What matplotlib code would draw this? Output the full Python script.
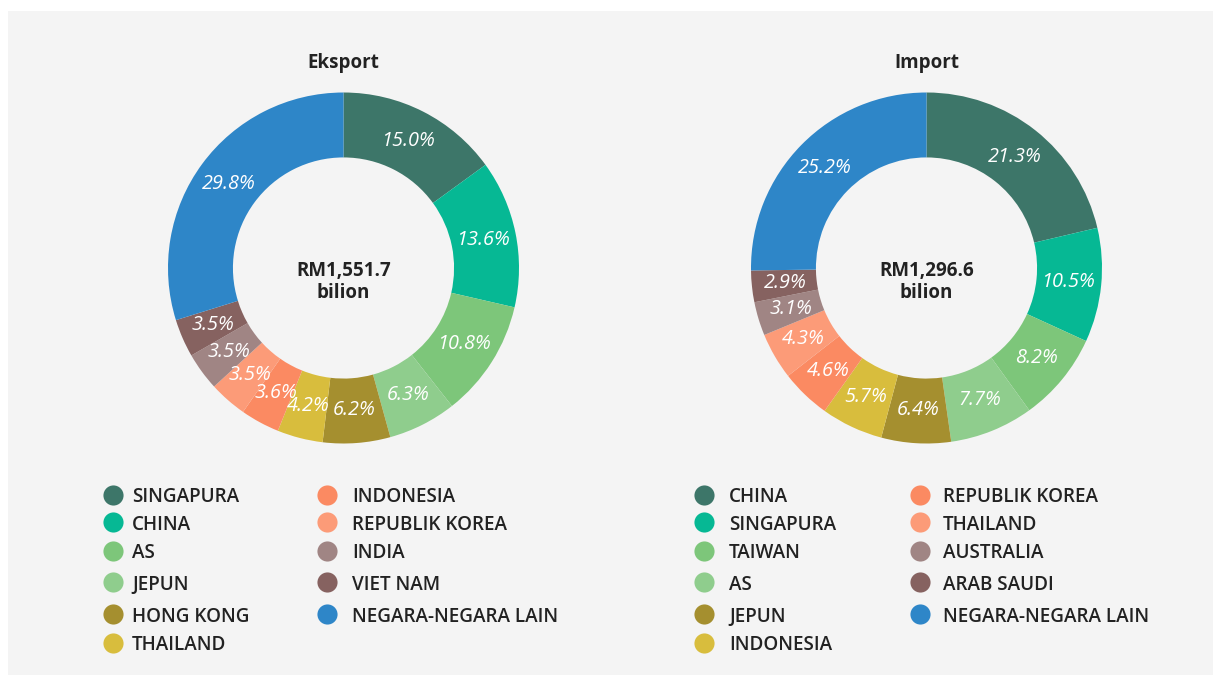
import matplotlib
matplotlib.use("Agg")
import matplotlib.pyplot as plt
from matplotlib.patches import Rectangle

plt.rcParams['font.family'] = ['Open Sans', 'DejaVu Sans']

# ---------------- data ----------------
export_labels = ["SINGAPURA", "CHINA", "AS", "JEPUN", "HONG KONG", "THAILAND",
                 "INDONESIA", "REPUBLIK KOREA", "INDIA", "VIET NAM", "NEGARA-NEGARA LAIN"]
export_values = [15.0, 13.6, 10.8, 6.3, 6.2, 4.2, 3.6, 3.5, 3.5, 3.5, 29.8]
export_total = ["RM1,551.7", "bilion"]

import_labels = ["CHINA", "SINGAPURA", "TAIWAN", "AS", "JEPUN", "INDONESIA",
                 "REPUBLIK KOREA", "THAILAND", "AUSTRALIA", "ARAB SAUDI", "NEGARA-NEGARA LAIN"]
import_values = [21.3, 10.5, 8.2, 7.7, 6.4, 5.7, 4.6, 4.3, 3.1, 2.9, 25.2]
import_total = ["RM1,296.6", "bilion"]

colors = ["#3d7669", "#06b894", "#7dc67a", "#8fcd8d", "#a58f2f", "#d8bd3d",
          "#fb8a62", "#fc9b78", "#a08584", "#866260", "#2e86c8"]

W, H = 1221, 683
fig = plt.figure(figsize=(W / 100, H / 100), dpi=100)
fig.patch.set_facecolor("white")
bg = Rectangle((8 / W, 1 - 675 / H), (1213 - 8) / W, (675 - 11) / H,
               transform=fig.transFigure, facecolor="#f4f4f4",
               edgecolor="none", zorder=-10)
fig.patches.append(bg)

R = 175.5  # outer radius in px
ring_w = 0.37


def donut(cx, cy, values, total, title):
    ax = fig.add_axes([(cx - R) / W, 1 - (cy + R) / H, 2 * R / W, 2 * R / H])
    ax.set_zorder(5)
    ax.patch.set_visible(False)
    wedges, texts = ax.pie(values, colors=colors, startangle=90, counterclock=False,
                           radius=1.0, labels=[f"{v:.1f}%" for v in values],
                           labeldistance=0.81,
                           wedgeprops=dict(width=ring_w, edgecolor="none", linewidth=0),
                           textprops=dict(color="white", fontsize=14.3, style="italic"))
    for t in texts:
        t.set_horizontalalignment("center")
        t.set_verticalalignment("center")
    ax.set_xlim(-1, 1)
    ax.set_ylim(-1, 1)
    ax.set_aspect("equal")
    ax.axis("off")
    fig.text(cx / W, 1 - (cy + 3) / H, total[0], ha="center", va="center", fontsize=13.5,
             fontweight="bold", color="#222222", zorder=10)
    fig.text(cx / W, 1 - (cy + 24.5) / H, total[1], ha="center", va="center", fontsize=13.5,
             fontweight="bold", color="#222222", zorder=10)
    fig.text(cx / W, 1 - 63 / H, title, ha="center", va="center", fontsize=13.5,
             fontweight="bold", color="#222222")


donut(343.5, 268, export_values, export_total, "Eksport")
donut(926.5, 268, import_values, import_total, "Import")


def legend(labels, col_x, rows_y):
    for i, lab in enumerate(labels):
        col = 0 if i < 6 else 1
        row = i if i < 6 else i - 6
        mx, tx = col_x[col]
        y = 1 - rows_y[row] / H
        fig.add_artist(plt.Line2D([mx / W], [y], marker="o", markersize=14.5,
                                  markerfacecolor=colors[i], markeredgecolor="none",
                                  linestyle="none", transform=fig.transFigure))
        fig.text(tx / W, y, lab, ha="left", va="center_baseline", fontsize=13.6,
                 fontweight="semibold", color="#222222")


rows_y = [495, 522, 551, 582, 614, 643]
legend(export_labels, [(113, 132), (327, 352)], rows_y)
legend(import_labels, [(704, 729), (920, 943)], rows_y)

fig.savefig("out.png", dpi=100, facecolor=fig.get_facecolor())
